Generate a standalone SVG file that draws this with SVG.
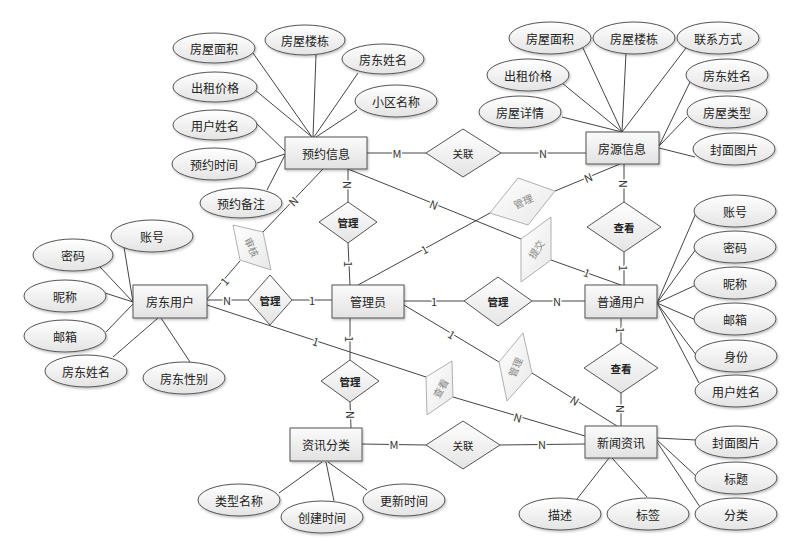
<svg xmlns="http://www.w3.org/2000/svg" width="798" height="550" viewBox="0 0 798 550">
<defs>
<linearGradient id="gE" x1="0" y1="0" x2="0" y2="1"><stop offset="0" stop-color="#ffffff"/><stop offset="1" stop-color="#e4e4e4"/></linearGradient>
<linearGradient id="gR" x1="0" y1="0" x2="0" y2="1"><stop offset="0" stop-color="#fbfbfb"/><stop offset="1" stop-color="#e2e2e2"/></linearGradient>
<linearGradient id="gG" x1="0" y1="0" x2="1" y2="1"><stop offset="0" stop-color="#ffffff"/><stop offset="1" stop-color="#e8e8e8"/></linearGradient>
<filter id="sh" x="-20%" y="-20%" width="140%" height="140%"><feDropShadow dx="1" dy="1.5" stdDeviation="1" flood-color="#000" flood-opacity="0.25"/></filter>
</defs>
<style>
text{font-family:"Noto Sans CJK SC","Liberation Sans",sans-serif;fill:#222;text-anchor:middle;dominant-baseline:central}
.a ellipse{fill:url(#gE);stroke:#555;stroke-width:1;filter:url(#sh)}
.a text{font-size:12px}
.e rect{fill:url(#gR);stroke:#555;stroke-width:1;filter:url(#sh)}
.e text{font-size:12px}
.r polygon{fill:url(#gE);stroke:#555;stroke-width:1}
.r text{font-size:10.5px;font-weight:bold}
.r text.n{font-weight:normal}
.g polygon{fill:url(#gG);stroke:#b0b0b0;stroke-width:1}
.g text{font-size:10px;fill:#888}
#conn line{stroke:#444;stroke-width:1}
#conn text{font-size:11px;fill:#333;stroke:#fff;stroke-width:3;paint-order:stroke}
</style>
<g id="conn">
<!-- 预约信息 attributes -->
<line x1="253" y1="53" x2="312" y2="137"/>
<line x1="316" y1="55" x2="313" y2="137"/>
<line x1="358" y1="73" x2="314" y2="137"/>
<line x1="357" y1="110" x2="316" y2="137"/>
<line x1="255" y1="90" x2="312" y2="137"/>
<line x1="256" y1="123" x2="285" y2="151"/>
<line x1="257" y1="163" x2="285" y2="154"/>
<line x1="267" y1="190" x2="285" y2="155"/>
<!-- 房源信息 attributes -->
<line x1="583" y1="48" x2="622" y2="132"/>
<line x1="626" y1="53" x2="622" y2="132"/>
<line x1="686" y1="48" x2="622" y2="132"/>
<line x1="562" y1="83" x2="622" y2="132"/>
<line x1="562" y1="117" x2="622" y2="132"/>
<line x1="690" y1="82" x2="659" y2="146"/>
<line x1="687" y1="117" x2="659" y2="146"/>
<line x1="695" y1="157" x2="659" y2="148"/>
<!-- 房东用户 attributes -->
<line x1="124" y1="247" x2="133" y2="302"/>
<line x1="100" y1="267" x2="133" y2="302"/>
<line x1="105" y1="293" x2="133" y2="302"/>
<line x1="106" y1="332" x2="133" y2="304"/>
<line x1="113" y1="357" x2="158" y2="318"/>
<line x1="190" y1="362" x2="161" y2="318"/>
<!-- 普通用户 attributes -->
<line x1="657" y1="303" x2="696" y2="213"/>
<line x1="657" y1="303" x2="696" y2="249"/>
<line x1="657" y1="303" x2="696" y2="285"/>
<line x1="657" y1="303" x2="696" y2="320"/>
<line x1="657" y1="303" x2="697" y2="356"/>
<line x1="657" y1="303" x2="699" y2="383"/>
<!-- 资讯分类 attributes -->
<line x1="322" y1="462" x2="279" y2="493"/>
<line x1="326" y1="462" x2="334" y2="501"/>
<line x1="328" y1="462" x2="367" y2="490"/>
<!-- 新闻资讯 attributes -->
<line x1="657" y1="438" x2="696" y2="440"/>
<line x1="657" y1="440" x2="697" y2="477"/>
<line x1="657" y1="442" x2="700" y2="507"/>
<line x1="609" y1="458" x2="577" y2="499"/>
<line x1="612" y1="458" x2="647" y2="497"/>
<!-- relationships -->
<line x1="367" y1="153" x2="426" y2="153"/><text x="397" y="153">M</text>
<line x1="501" y1="153" x2="586" y2="153"/><text x="543" y="153">N</text>
<line x1="348" y1="169" x2="348" y2="202"/><text x="348" y="185" transform="rotate(90 348 185)">N</text>
<line x1="348" y1="243" x2="350" y2="285"/><text x="349" y="264" transform="rotate(90 349 264)">1</text>
<line x1="207" y1="300" x2="248" y2="300"/><text x="227" y="300">N</text>
<line x1="292" y1="300" x2="332" y2="300"/><text x="312" y="300">1</text>
<line x1="404" y1="301" x2="464" y2="301"/><text x="434" y="301">1</text>
<line x1="532" y1="301" x2="585" y2="301"/><text x="557" y="301">N</text>
<line x1="350" y1="318" x2="350" y2="360"/><text x="350" y="339" transform="rotate(90 350 339)">1</text>
<line x1="350" y1="402" x2="351" y2="428"/><text x="351" y="415" transform="rotate(90 351 415)">N</text>
<line x1="624" y1="164" x2="624" y2="202"/><text x="624" y="184" transform="rotate(90 624 184)">N</text>
<line x1="624" y1="252" x2="624" y2="285"/><text x="624" y="268" transform="rotate(90 624 268)">1</text>
<line x1="621" y1="318" x2="621" y2="343"/><text x="621" y="330" transform="rotate(90 621 330)">1</text>
<line x1="621" y1="393" x2="621" y2="426"/><text x="621" y="409" transform="rotate(90 621 409)">N</text>
<line x1="362" y1="444" x2="426" y2="445"/><text x="394" y="444">M</text>
<line x1="500" y1="445" x2="585" y2="444"/><text x="542" y="444">N</text>
<!-- gray relationship links -->
<line x1="207" y1="299" x2="240" y2="261"/><text x="224" y="281" transform="rotate(-49 224 281)">1</text>
<line x1="263" y1="232" x2="323" y2="169"/><text x="293" y="201" transform="rotate(-46 293 201)">N</text>
<line x1="358" y1="285" x2="490" y2="213"/><text x="424" y="249" transform="rotate(-29 424 249)">1</text>
<line x1="555" y1="191" x2="620" y2="164"/><text x="588" y="177" transform="rotate(-23 588 177)">N</text>
<line x1="348" y1="169" x2="521" y2="239"/><text x="434" y="204" transform="rotate(22 434 204)">N</text>
<line x1="551" y1="260" x2="621" y2="285"/><text x="587" y="272" transform="rotate(20 587 272)">1</text>
<line x1="207" y1="305" x2="426" y2="377"/><text x="316" y="341" transform="rotate(18 316 341)">1</text>
<line x1="453" y1="397" x2="585" y2="436"/><text x="518" y="417" transform="rotate(16 518 417)">N</text>
<line x1="404" y1="305" x2="499" y2="362"/><text x="452" y="334" transform="rotate(31 452 334)">1</text>
<line x1="532" y1="373" x2="617" y2="426"/><text x="575" y="400" transform="rotate(32 575 400)">N</text>
</g>
<!-- gray relationships -->
<g id="rel-shenhe" class="g"><polygon points="233,225 263,232 271,270 240,260"/><text x="252" y="247" transform="rotate(65 252 247)">审核</text></g>
<g id="rel-guanli-fy" class="g"><polygon points="518,178 555,191 528,225 490,213"/><text x="523" y="201" transform="rotate(-25 523 201)">管理</text></g>
<g id="rel-tijiao" class="g"><polygon points="551,217 551,260 521,282 521,239"/><text x="536" y="249" transform="rotate(-58 536 249)">提交</text></g>
<g id="rel-chakan-g" class="g"><polygon points="452,361 453,397 427,415 426,377"/><text x="440" y="388" transform="rotate(-60 440 388)">查看</text></g>
<g id="rel-guanli-xw" class="g"><polygon points="523,333 532,373 507,401 499,362"/><text x="515" y="367" transform="rotate(-66 515 367)">管理</text></g>
<!-- relationships -->
<g id="rel-guanlian1" class="r"><polygon points="426,153 463,129 501,153 463,177"/><text class="n" x="463" y="153">关联</text></g>
<g id="rel-guanli1" class="r"><polygon points="319,222 348,202 377,222 348,243"/><text x="348" y="222">管理</text></g>
<g id="rel-guanli2" class="r"><polygon points="248,300 270,275 292,300 270,325"/><text x="270" y="300">管理</text></g>
<g id="rel-guanli3" class="r"><polygon points="464,301 498,277 532,301 498,326"/><text x="498" y="301">管理</text></g>
<g id="rel-guanli4" class="r"><polygon points="321,381 350,360 379,381 350,402"/><text x="350" y="381">管理</text></g>
<g id="rel-chakan1" class="r"><polygon points="587,227 624,202 661,227 624,252"/><text x="624" y="227">查看</text></g>
<g id="rel-chakan2" class="r"><polygon points="584,368 621,343 658,368 621,393"/><text x="621" y="368">查看</text></g>
<g id="rel-guanlian2" class="r"><polygon points="426,445 463,421 500,445 463,469"/><text class="n" x="463" y="445">关联</text></g>
<!-- entities -->
<g id="ent-yuyue" class="e"><rect x="285" y="137" width="82" height="32"/><text x="326" y="153">预约信息</text></g>
<g id="ent-fangyuan" class="e"><rect x="586" y="132" width="73" height="32"/><text x="622" y="148">房源信息</text></g>
<g id="ent-fangdong" class="e"><rect x="133" y="285" width="74" height="33"/><text x="170" y="301">房东用户</text></g>
<g id="ent-admin" class="e"><rect x="332" y="285" width="72" height="33"/><text x="368" y="301">管理员</text></g>
<g id="ent-user" class="e"><rect x="585" y="285" width="72" height="33"/><text x="621" y="301">普通用户</text></g>
<g id="ent-zxfl" class="e"><rect x="290" y="428" width="72" height="33"/><text x="326" y="444">资讯分类</text></g>
<g id="ent-news" class="e"><rect x="585" y="426" width="72" height="32"/><text x="621" y="442">新闻资讯</text></g>
<!-- attributes: 预约信息 -->
<g id="at-yy-mj" class="a"><ellipse cx="214" cy="48" rx="41" ry="15"/><text x="214" y="48">房屋面积</text></g>
<g id="at-yy-ld" class="a"><ellipse cx="305" cy="40" rx="40" ry="15"/><text x="305" y="40">房屋楼栋</text></g>
<g id="at-yy-fd" class="a"><ellipse cx="383" cy="59" rx="41" ry="15"/><text x="383" y="59">房东姓名</text></g>
<g id="at-yy-xq" class="a"><ellipse cx="396" cy="101" rx="41" ry="16"/><text x="396" y="101">小区名称</text></g>
<g id="at-yy-jg" class="a"><ellipse cx="215" cy="87" rx="42" ry="15"/><text x="215" y="87">出租价格</text></g>
<g id="at-yy-yh" class="a"><ellipse cx="215" cy="125" rx="42" ry="15"/><text x="215" y="125">用户姓名</text></g>
<g id="at-yy-sj" class="a"><ellipse cx="214" cy="164" rx="42" ry="16"/><text x="214" y="164">预约时间</text></g>
<g id="at-yy-bz" class="a"><ellipse cx="241" cy="203" rx="41" ry="15"/><text x="241" y="203">预约备注</text></g>
<!-- attributes: 房源信息 -->
<g id="at-fy-mj" class="a"><ellipse cx="550" cy="38" rx="41" ry="16"/><text x="550" y="38">房屋面积</text></g>
<g id="at-fy-ld" class="a"><ellipse cx="634" cy="38" rx="41" ry="16"/><text x="634" y="38">房屋楼栋</text></g>
<g id="at-fy-lx" class="a"><ellipse cx="718" cy="38" rx="41" ry="16"/><text x="718" y="38">联系方式</text></g>
<g id="at-fy-jg" class="a"><ellipse cx="528" cy="75" rx="41" ry="16"/><text x="528" y="75">出租价格</text></g>
<g id="at-fy-fd" class="a"><ellipse cx="727" cy="75" rx="41" ry="16"/><text x="727" y="75">房东姓名</text></g>
<g id="at-fy-xq" class="a"><ellipse cx="520" cy="112" rx="41" ry="16"/><text x="520" y="112">房屋详情</text></g>
<g id="at-fy-lx2" class="a"><ellipse cx="727" cy="112" rx="40" ry="16"/><text x="727" y="112">房屋类型</text></g>
<g id="at-fy-tp" class="a"><ellipse cx="734" cy="149" rx="41" ry="16"/><text x="734" y="149">封面图片</text></g>
<!-- attributes: 房东用户 -->
<g id="at-fd-zh" class="a"><ellipse cx="152" cy="236" rx="41" ry="16"/><text x="152" y="236">账号</text></g>
<g id="at-fd-mm" class="a"><ellipse cx="73" cy="255" rx="40" ry="16"/><text x="73" y="255">密码</text></g>
<g id="at-fd-nc" class="a"><ellipse cx="65" cy="296" rx="41" ry="16"/><text x="65" y="296">昵称</text></g>
<g id="at-fd-yx" class="a"><ellipse cx="65" cy="336" rx="41" ry="16"/><text x="65" y="336">邮箱</text></g>
<g id="at-fd-xm" class="a"><ellipse cx="86" cy="371" rx="41" ry="16"/><text x="86" y="371">房东姓名</text></g>
<g id="at-fd-xb" class="a"><ellipse cx="184" cy="378" rx="41" ry="16"/><text x="184" y="378">房东性别</text></g>
<!-- attributes: 普通用户 -->
<g id="at-u-zh" class="a"><ellipse cx="735" cy="211" rx="41" ry="16"/><text x="735" y="211">账号</text></g>
<g id="at-u-mm" class="a"><ellipse cx="735" cy="247" rx="41" ry="16"/><text x="735" y="247">密码</text></g>
<g id="at-u-nc" class="a"><ellipse cx="735" cy="283" rx="41" ry="16"/><text x="735" y="283">昵称</text></g>
<g id="at-u-yx" class="a"><ellipse cx="735" cy="319" rx="41" ry="16"/><text x="735" y="319">邮箱</text></g>
<g id="at-u-sf" class="a"><ellipse cx="736" cy="356" rx="41" ry="16"/><text x="736" y="356">身份</text></g>
<g id="at-u-xm" class="a"><ellipse cx="736" cy="391" rx="41" ry="16"/><text x="736" y="391">用户姓名</text></g>
<!-- attributes: 资讯分类 -->
<g id="at-fl-mc" class="a"><ellipse cx="239" cy="500" rx="41" ry="16"/><text x="239" y="500">类型名称</text></g>
<g id="at-fl-cj" class="a"><ellipse cx="322" cy="517" rx="41" ry="16"/><text x="322" y="517">创建时间</text></g>
<g id="at-fl-gx" class="a"><ellipse cx="404" cy="500" rx="41" ry="16"/><text x="404" y="500">更新时间</text></g>
<!-- attributes: 新闻资讯 -->
<g id="at-xw-tp" class="a"><ellipse cx="736" cy="442" rx="41" ry="16"/><text x="736" y="442">封面图片</text></g>
<g id="at-xw-bt" class="a"><ellipse cx="736" cy="478" rx="41" ry="16"/><text x="736" y="478">标题</text></g>
<g id="at-xw-fl" class="a"><ellipse cx="736" cy="514" rx="41" ry="16"/><text x="736" y="514">分类</text></g>
<g id="at-xw-ms" class="a"><ellipse cx="560" cy="514" rx="41" ry="16"/><text x="560" y="514">描述</text></g>
<g id="at-xw-bq" class="a"><ellipse cx="648" cy="514" rx="41" ry="16"/><text x="648" y="514">标签</text></g>
</svg>
